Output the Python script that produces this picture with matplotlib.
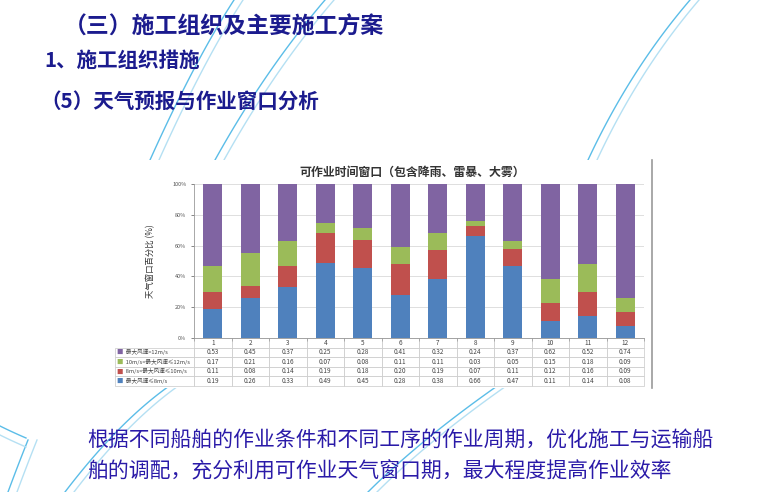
import numpy as np
import matplotlib
matplotlib.use("Agg")
import matplotlib.pyplot as plt

plt.rcParams['font.family'] = ['Noto Sans CJK SC', 'DejaVu Sans']

months = ['1', '2', '3', '4', '5', '6', '7', '8', '9', '10', '11', '12']
# wind speed classes, bottom to top of each bar
le8 = [0.19, 0.26, 0.33, 0.49, 0.45, 0.28, 0.38, 0.66, 0.47, 0.11, 0.14, 0.08]
b8_10 = [0.11, 0.08, 0.14, 0.19, 0.18, 0.20, 0.19, 0.07, 0.11, 0.12, 0.16, 0.09]
b10_12 = [0.17, 0.21, 0.16, 0.07, 0.08, 0.11, 0.11, 0.03, 0.05, 0.15, 0.18, 0.09]
gt12 = [0.53, 0.45, 0.37, 0.25, 0.28, 0.41, 0.32, 0.24, 0.37, 0.62, 0.52, 0.74]

labels = ['最大风速≤8m/s', '8m/s<最大风速≤10m/s', '10m/s<最大风速≤12m/s', '最大风速>12m/s']
colors = ['#4f81bd', '#c0504d', '#9bbb59', '#8064a2']
series = [le8, b8_10, b10_12, gt12]

W, H = 760, 492
fig = plt.figure(figsize=(W / 100, H / 100), dpi=100)
fig.patch.set_facecolor('white')


def fx(px):
    return px / W


def fy(py):
    return 1 - py / H


# decorative swooshes of the slide background (pixel coords)
deco = fig.add_axes([0, 0, 1, 1], zorder=0)
deco.set_xlim(0, W)
deco.set_ylim(H, 0)
deco.axis('off')


def swoosh(p0, p1, p2, color, lw=1.0):
    t = np.linspace(0, 1, 60)[:, None]
    pts = (1 - t) ** 2 * np.array(p0) + 2 * (1 - t) * t * np.array(p1) + t ** 2 * np.array(p2)
    deco.plot(pts[:, 0], pts[:, 1], color=color, lw=lw)


for dx, c in [(0, '#5bbde8'), (9, '#b5e0f3')]:
    swoosh((234 + dx, 0), (195 + dx, 60), (150 + dx, 160), c)
    swoosh((325 + dx, 0), (265 + dx, 70), (215 + dx, 160), c)
    swoosh((690 + dx, 0), (630 + dx, 70), (588 + dx, 160), c)
    swoosh((172 + dx, 384), (120 + dx, 420), (65 + dx, 492), c)
    swoosh((500 + dx, 384), (420 + dx, 440), (368 + dx, 492), c)
    swoosh((0, 426 + dx), (12, 432 + dx), (26, 438 + dx), c)
    swoosh((28 + dx, 440), (18 + dx, 465), (8 + dx, 492), c)

# slide text
navy = '#1b1b8e'
fig.text(fx(64), fy(27), '（三）施工组织及主要施工方案', fontsize=16.5,
         fontweight='bold', color=navy, va='center', ha='left')
fig.text(fx(44), fy(60), '1、施工组织措施', fontsize=14.8,
         fontweight='bold', color=navy, va='center', ha='left')
fig.text(fx(40), fy(101), '（5）天气预报与作业窗口分析', fontsize=14.8,
         fontweight='bold', color=navy, va='center', ha='left')

body = '#2a1aa8'
fig.text(fx(87), fy(440), '根据不同船舶的作业条件和不同工序的作业周期，优化施工与运输船',
         fontsize=15, color=body, va='center', ha='left')
fig.text(fx(87), fy(471), '舶的调配，充分利用可作业天气窗口期，最大程度提高作业效率',
         fontsize=15, color=body, va='center', ha='left')

# chart picture background
bg = fig.add_axes([fx(115), fy(388), fx(652 - 115), (388 - 160) / H], zorder=1)
bg.set_xticks([])
bg.set_yticks([])
for s in ['top', 'left', 'bottom']:
    bg.spines[s].set_visible(False)
bg.spines['right'].set_color('#9a9a9a')
bg.spines['right'].set_linewidth(1.2)

fig.text(fx(412), fy(172), '可作业时间窗口（包含降雨、雷暴、大雾）', fontsize=8.6,
         fontweight='bold', color='#333333', ha='center', va='center', zorder=3)

ax = fig.add_axes([fx(194), fy(338), fx(644 - 194), (338 - 184) / H], zorder=2)
ax.set_facecolor('none')
x = np.arange(len(months))
# 100% stacked, like the Excel original
totals = np.sum(series, axis=0)
bottom = np.zeros(len(months))
for vals, col, lab in zip(series, colors, labels):
    share = np.array(vals) / totals
    ax.bar(x, share, width=0.5, bottom=bottom, color=col, label=lab, zorder=2)
    bottom += share

ax.set_xlim(-0.5, len(months) - 0.5)
ax.set_ylim(0, 1)
ax.set_yticks(np.arange(0, 1.01, 0.2))
ax.set_yticklabels(['0%', '20%', '40%', '60%', '80%', '100%'])
ax.tick_params(axis='y', labelsize=4, colors='#555555', length=2, width=0.5)
ax.set_xticks(np.arange(-0.5, len(months), 1))
ax.set_xticklabels([])
ax.tick_params(axis='x', length=2, width=0.5, colors='#999999')
ax.grid(axis='y', color='#d9d9d9', lw=0.6, zorder=0)
for s in ['top', 'right']:
    ax.spines[s].set_visible(False)
ax.spines['left'].set_color('#9a9a9a')
ax.spines['bottom'].set_color('#9a9a9a')
ax.spines['left'].set_linewidth(0.6)
ax.spines['bottom'].set_linewidth(0.6)
ax.set_ylabel('天气窗口百分比 (%)', fontsize=6, color='#333333', labelpad=12)

# data table under the chart (top row = top of stack)
order = [3, 2, 1, 0]
cell_text = [['       ' + labels[i]] + ['%.2f' % v for v in series[i]] for i in order]
row_h = 0.062
lab_w = 79 / 450
tbl = ax.table(cellText=cell_text, colLabels=[''] + months,
               colWidths=[lab_w] + [1 / 12] * 12, cellLoc='center',
               bbox=[-lab_w, -5 * row_h, 1 + lab_w, 5 * row_h])
tbl.auto_set_font_size(False)
tbl.set_fontsize(4.6)
for (r, c), cell in tbl.get_celld().items():
    cell.set_edgecolor('#c8c8c8')
    cell.set_linewidth(0.5)
    cell.get_text().set_color('#444444')
    cell.PAD = 0.02
    if c == 0:
        cell._loc = 'left'
        cell.get_text().set_horizontalalignment('left')
        cell.get_text().set_fontsize(4.1)
        if r == 0:
            cell.visible_edges = ''

for k, i in enumerate(order):
    ax.text(-lab_w + 0.004, -(k + 1.5) * row_h, '■', color=colors[i],
            fontsize=4.6, ha='left', va='center', transform=ax.transAxes,
            clip_on=False, zorder=5)

fig.savefig('out.png', dpi=100, facecolor='white')
